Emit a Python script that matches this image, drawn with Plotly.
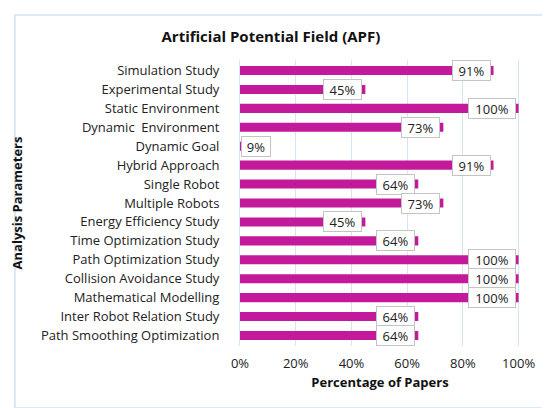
import plotly.graph_objects as go

parameters = [
    "Simulation Study",
    "Experimental Study",
    "Static Environment",
    "Dynamic  Environment",
    "Dynamic Goal",
    "Hybrid Approach",
    "Single Robot",
    "Multiple Robots",
    "Energy Efficiency Study",
    "Time Optimization Study",
    "Path Optimization Study",
    "Collision Avoidance Study",
    "Mathematical Modelling",
    "Inter Robot Relation Study",
    "Path Smoothing Optimization",
]
percentages = [91, 45, 100, 73, 9, 91, 64, 73, 45, 64, 100, 100, 100, 64, 64]
x_ticks = [0, 20, 40, 60, 80, 100]
x_tick_labels = [f"{v}%" for v in x_ticks]

bar_color = "#C21A9B"
font_family = "'Open Sans', 'Noto Sans', Arial, sans-serif"

fig = go.Figure()
fig.add_trace(
    go.Bar(
        x=percentages,
        y=parameters,
        orientation="h",
        marker=dict(color=bar_color, line=dict(width=0)),
        hoverinfo="x+y",
    )
)

# value labels in white boxes sitting on the end of each bar
for name, pct in zip(parameters, percentages):
    label = f"{pct}%"
    short = pct < 20
    fig.add_annotation(
        x=0 if short else pct,
        y=name,
        text=label,
        showarrow=False,
        xanchor="left" if short else "right",
        xshift=1 if short else -3,
        width=9 * len(label) + 8,
        height=17,
        align="center",
        font=dict(family=font_family, size=13, color="#222222"),
        bgcolor="white",
        bordercolor="#C4C4C4",
        borderwidth=1,
        borderpad=1,
    )

# light blue frame around the whole chart
fig.add_shape(
    type="rect",
    xref="paper",
    yref="paper",
    x0=-0.804,
    x1=1.111,
    y0=-0.217,
    y1=1.157,
    line=dict(color="#CFE3F1", width=1.5),
    fillcolor="rgba(0,0,0,0)",
    layer="below",
)

fig.update_layout(
    width=550,
    height=408,
    margin=dict(l=232, r=38, t=52, b=70),
    paper_bgcolor="white",
    plot_bgcolor="white",
    bargap=0.52,
    showlegend=False,
    font=dict(family=font_family, size=13, color="#222222"),
    title=dict(
        text="<b>Artificial Potential Field (APF)</b>",
        x=0.478,
        xanchor="center",
        y=0.93,
        yanchor="middle",
        font=dict(size=15, color="#111111"),
    ),
    xaxis=dict(
        range=[0, 100.5],
        tickmode="array",
        tickvals=x_ticks,
        ticktext=x_tick_labels,
        showgrid=True,
        gridcolor="#D5E6F2",
        gridwidth=1,
        zeroline=False,
        showline=False,
        ticks="",
        automargin=False,
        ticklabelstandoff=8,
        tickfont=dict(size=13),
        title=dict(
            text="<b>Percentage of Papers</b>",
            font=dict(size=13, color="#111111"),
            standoff=6,
        ),
    ),
    yaxis=dict(
        autorange="reversed",
        showgrid=False,
        zeroline=False,
        showline=True,
        linecolor="#D5E6F2",
        ticks="",
        automargin=False,
        ticklabelstandoff=17,
        tickfont=dict(size=13),
        title=dict(
            text="<b>Analysis Parameters</b>",
            font=dict(size=13, color="#111111"),
            standoff=18,
        ),
    ),
)

fig.write_html("out.html")
